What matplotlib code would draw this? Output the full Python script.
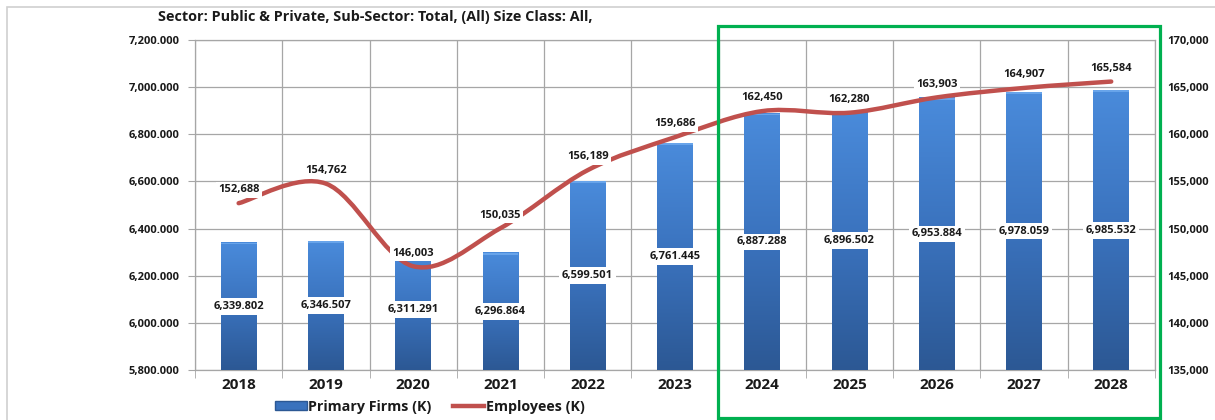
import numpy as np
import matplotlib
matplotlib.use("Agg")
import matplotlib.pyplot as plt
from matplotlib.path import Path
from matplotlib.patches import PathPatch, Rectangle, Patch
from matplotlib.lines import Line2D
from matplotlib.ticker import FuncFormatter, MultipleLocator
from matplotlib.colors import LinearSegmentedColormap

years = ["2018", "2019", "2020", "2021", "2022", "2023",
         "2024", "2025", "2026", "2027", "2028"]
firms = [6339.802, 6346.507, 6311.291, 6296.864, 6599.501, 6761.445,
         6887.288, 6896.502, 6953.884, 6978.059, 6985.532]
employees = [152688, 154762, 146003, 150035, 156189, 159686,
             162450, 162280, 163903, 164907, 165584]
title = "Sector: Public & Private, Sub-Sector: Total, (All) Size Class: All,"

plt.rcParams['font.family'] = ['Open Sans', 'DejaVu Sans']
plt.rcParams['font.weight'] = 'bold'

GRID = '#a6a6a6'
RED = '#c0504d'
TXT = '#1a1a1a'
NUM = 8


def smooth_path(xs, ys, t=1 / 6):
    # excel-style smoothed line as cubic bezier segments
    n = len(xs)
    verts = [(xs[0], ys[0])]
    codes = [Path.MOVETO]
    for i in range(n - 1):
        a = max(i - 1, 0)
        b = min(i + 2, n - 1)
        c1 = (xs[i] + (xs[i + 1] - xs[a]) * t, ys[i] + (ys[i + 1] - ys[a]) * t)
        c2 = (xs[i + 1] - (xs[b] - xs[i]) * t, ys[i + 1] - (ys[b] - ys[i]) * t)
        verts += [c1, c2, (xs[i + 1], ys[i + 1])]
        codes += [Path.CURVE4] * 3
    return Path(verts, codes)


fig = plt.figure(figsize=(12.15, 4.2), dpi=100)
ax = fig.add_axes([0.1605, 0.119, 0.79, 0.786])
x = np.arange(len(years))

# bars with vertical gradient
bars = ax.bar(x, [f - 5800 for f in firms], bottom=5800, width=0.41,
              color='none', zorder=3)
cmap = LinearSegmentedColormap.from_list('b', ['#2c5894', '#3a72bd', '#4a8bdb'])
grad = np.linspace(0, 1, 256).reshape(-1, 1)
for b in bars:
    x0, w, h = b.get_x(), b.get_width(), b.get_height()
    ax.imshow(grad, cmap=cmap, origin='lower', aspect='auto', zorder=3,
              extent=[x0, x0 + w, 5800, 5800 + h])
    ax.add_patch(Rectangle((x0, 5800 + h - 7), w, 7, color='#68a4ea', lw=0, zorder=4))

for xi, f in zip(x, firms):
    ax.text(xi, (5800 + f) / 2, f"{f:,.3f}", ha='center', va='center',
            fontsize=NUM, fontweight='bold', color=TXT, zorder=6,
            bbox=dict(boxstyle='square,pad=0.25', fc='white', ec='none'))

ax.set_xlim(-0.5, len(years) - 0.5)
ax.set_ylim(5800, 7200)
ax.yaxis.set_major_locator(MultipleLocator(200))
ax.yaxis.set_major_formatter(FuncFormatter(lambda v, p: f"{v:,.3f}"))
ax.set_xticks(x)
ax.set_xticklabels(years, fontsize=11, fontweight='bold', color=TXT)
ax.set_xticks(np.arange(-0.5, len(years)), minor=True)
ax.tick_params(axis='x', which='major', length=0, pad=6)
ax.tick_params(axis='x', which='minor', length=6, color=GRID, direction='out')
ax.tick_params(axis='y', length=5, color=GRID, labelsize=NUM, pad=6, labelcolor=TXT)
for lab in ax.get_yticklabels():
    lab.set_fontweight('bold')
ax.grid(axis='y', color=GRID, lw=0.9, zorder=0)
ax.grid(axis='x', which='minor', color=GRID, lw=0.9, zorder=0)
ax.set_axisbelow(True)
for s in ax.spines.values():
    s.set_color(GRID)
    s.set_linewidth(0.9)

ax2 = ax.twinx()
ax2.set_ylim(135000, 170000)
ax2.yaxis.set_major_locator(MultipleLocator(5000))
ax2.yaxis.set_major_formatter(FuncFormatter(lambda v, p: f"{v:,.0f}"))
ax2.tick_params(axis='y', length=0, labelsize=NUM, pad=9, labelcolor=TXT)
for lab in ax2.get_yticklabels():
    lab.set_fontweight('bold')
for s in ax2.spines.values():
    s.set_visible(False)

path = smooth_path(list(x.astype(float)), [float(e) for e in employees])
ax2.add_patch(PathPatch(path, fc='none', ec=RED, lw=3.2, capstyle='round', zorder=5))
for xi, e in zip(x, employees):
    ax2.annotate(f"{e:,}", (xi, e), xytext=(0, 9.5), textcoords='offset points',
                 ha='center', va='center', fontsize=NUM, fontweight='bold',
                 color=TXT, zorder=6,
                 bbox=dict(boxstyle='square,pad=0.2', fc='white', ec='none'))

fig.text(158 / 1215, 1 - 17 / 420, title, ha='left', va='center',
         fontsize=10.4, fontweight='bold', color=TXT)

handles = [Patch(facecolor='#3a72bd', edgecolor='#2c5894'),
           Line2D([], [], color=RED, lw=3.2)]
fig.legend(handles, ['Primary Firms (K)', 'Employees (K)'], loc='center',
           bbox_to_anchor=(430 / 1215, 13 / 420), ncol=2, frameon=False,
           prop={'size': 10.3, 'weight': 'bold'}, handlelength=2.2,
           handleheight=0.6, handletextpad=0.1, columnspacing=1.5,
           labelcolor=TXT)

# outer chart border and highlighted forecast box
fig.patches.append(Rectangle((7 / 1215, -0.1), 1.1, 1 - 7 / 420 + 0.1,
                             transform=fig.transFigure, fill=False,
                             ec='#d0d0d0', lw=1.2))
fig.patches.append(Rectangle((718 / 1215, 2 / 420), (1160 - 718) / 1215,
                             (418 - 26) / 420, transform=fig.transFigure,
                             fill=False, ec='#00b050', lw=2.3, zorder=10))

fig.savefig('out.png', dpi=100)
